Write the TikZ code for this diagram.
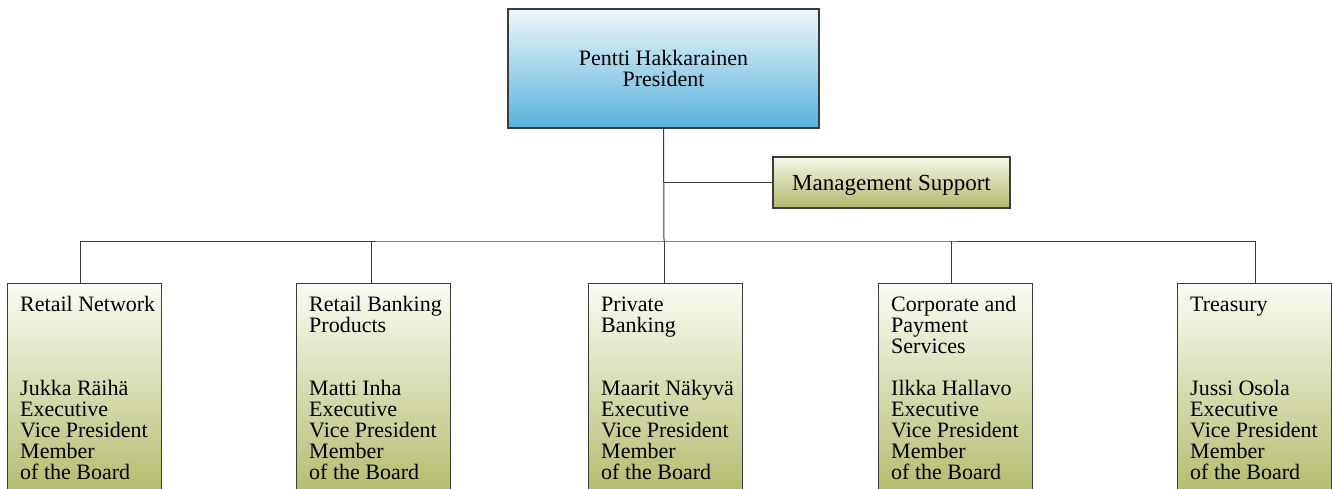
\documentclass[tikz,border=0pt]{standalone}
\usepackage{fontspec}
\setmainfont{Liberation Serif}
\usetikzlibrary{calc}
\definecolor{linec}{HTML}{3C3C3C}
\definecolor{bluetop}{HTML}{EEF7FB}
\definecolor{bluebot}{HTML}{58B2DA}
\definecolor{greentop}{HTML}{FBFBF4}
\definecolor{greenbot}{HTML}{B2BB6A}
\definecolor{msgtop}{HTML}{F6F7E8}
\definecolor{msgbot}{HTML}{B2B86C}
\tikzset{
  every node/.style={font=\fontsize{22}{21}\selectfont, text=black},
  boxbase/.style={draw=linec, line width=1.2pt, inner sep=0pt},
  topbox/.style={boxbase, top color=bluetop, bottom color=bluebot, align=center},
  msbox/.style={boxbase, top color=msgtop, bottom color=msgbot, font=\fontsize{23}{21}\selectfont,
    text height=19pt, text depth=3pt},
  unitbox/.style={boxbase, top color=greentop, bottom color=greenbot,
    minimum width=154pt, minimum height=215pt, anchor=north west},
  unittext/.style={inner sep=0pt, align=left, anchor=north west},
  conn/.style={draw=linec, line width=1pt},
}
\begin{document}
\begin{tikzpicture}[x=1pt,y=-1pt]
\useasboundingbox (0,0) rectangle (1332,488);
\fill[white] (0,0) rectangle (1332,488);

\node[topbox, minimum width=311pt, minimum height=119pt] (top) at (663.5,68.5)
  {Pentti Hakkarainen\\President};
\node[msbox, minimum width=237pt, minimum height=51pt] (ms) at (891.5,182.5)
  {Management Support};

\node[unitbox] (b1) at (7,283) {};
\node[unitbox] (b2) at (296,283) {};
\node[unitbox] (b3) at (588,283) {};
\node[unitbox] (b4) at (878,283) {};
\node[unitbox] (b5) at (1177,283) {};

\coordinate (bus) at (664,241);

\draw[conn] (top.south) -- (bus);
\draw[conn] (ms.west) -- (ms.west -| top.south);
\draw[conn] ([xshift=-4pt]b1.north) |- (bus) -| ([xshift=1pt]b5.north);
\draw[conn] ([xshift=-2pt]b2.north) -- ([xshift=-2pt]b2.north |- bus);
\draw[conn] ([xshift=-1pt]b3.north) -- ([xshift=-1pt]b3.north |- bus);
\draw[conn] ([xshift=-4pt]b4.north) -- ([xshift=-4pt]b4.north |- bus);

\node[unittext] (t1) at ($(b1.north west)+(13,13)$)
  {\vphantom{l}Retail Network\\[63pt]Jukka Räihä\\Executive\\Vice President\\Member\\of the Board};
\node[unittext] (t2) at ($(b2.north west)+(13,13)$)
  {\vphantom{l}Retail Banking\\Products\\[42pt]Matti Inha\\Executive\\Vice President\\Member\\of the Board};
\node[unittext] (t3) at ($(b3.north west)+(13,13)$)
  {\vphantom{l}Private\\Banking\\[42pt]Maarit Näkyvä\\Executive\\Vice President\\Member\\of the Board};
\node[unittext] (t4) at ($(b4.north west)+(13,13)$)
  {\vphantom{l}Corporate and\\Payment\\Services\\[21pt]Ilkka Hallavo\\Executive\\Vice President\\Member\\of the Board};
\node[unittext] (t5) at ($(b5.north west)+(13,13)$)
  {\vphantom{l}Treasury\\[63pt]Jussi Osola\\Executive\\Vice President\\Member\\of the Board};
\end{tikzpicture}
\end{document}
